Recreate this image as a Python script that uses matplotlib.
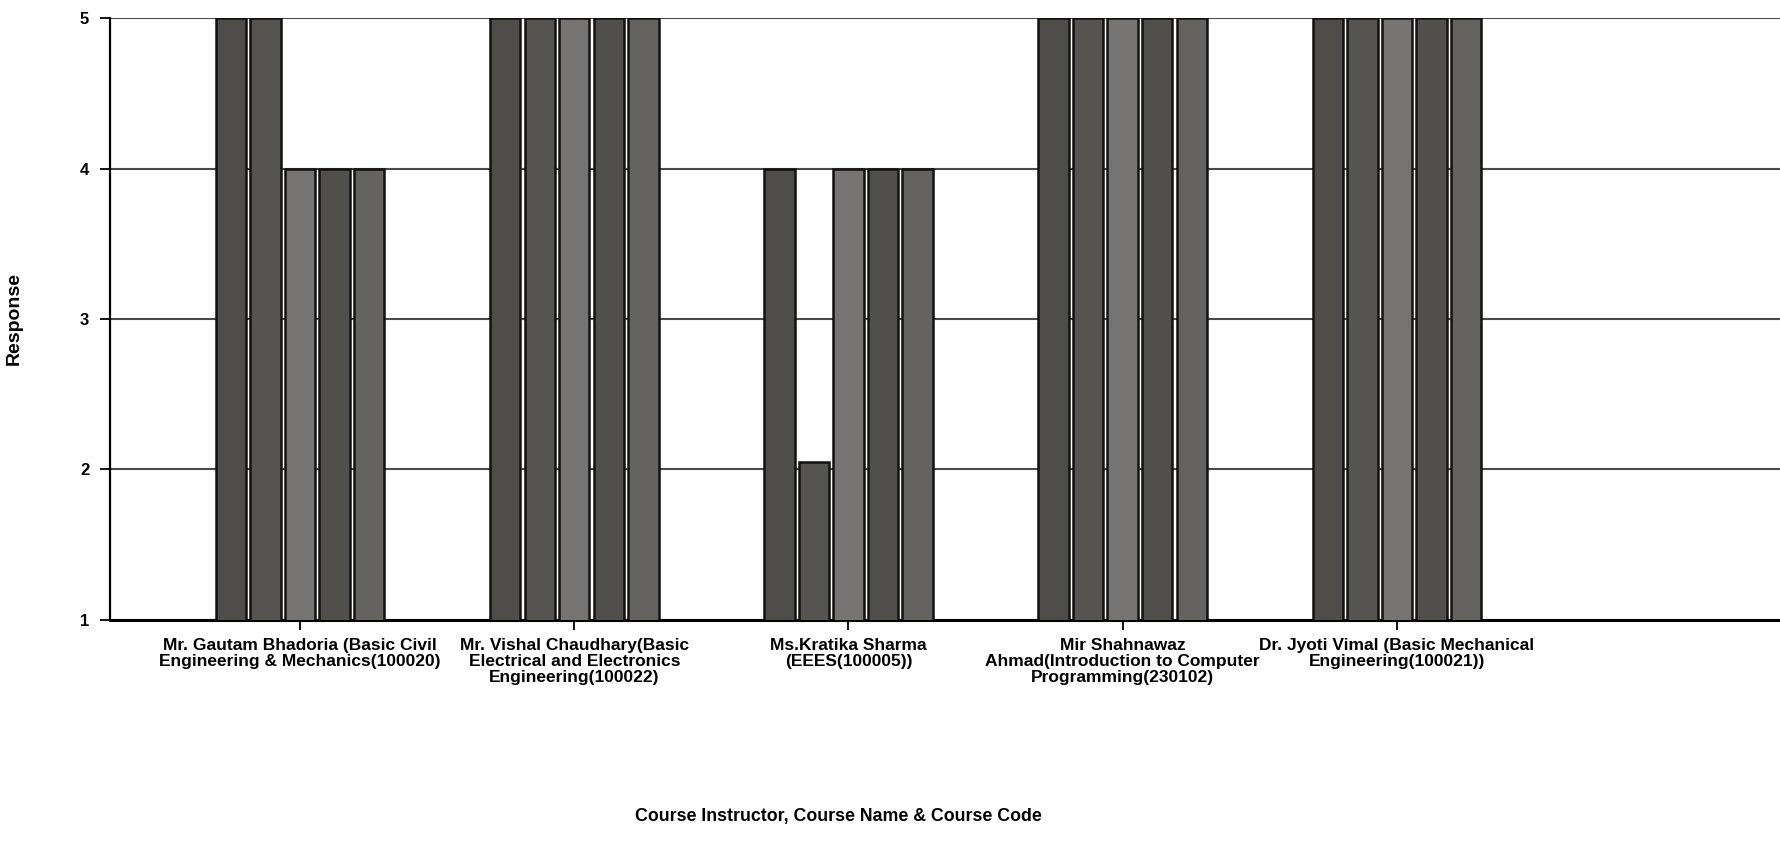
import matplotlib.pyplot as plt
import numpy as np

plt.rcParams['font.family'] = ['Liberation Sans', 'DejaVu Sans']

courses = ["Mr. Gautam Bhadoria (Basic Civil\nEngineering & Mechanics(100020)",
           "Mr. Vishal Chaudhary(Basic\nElectrical and Electronics\nEngineering(100022)",
           "Ms.Kratika Sharma\n(EEES(100005))",
           "Mir Shahnawaz\nAhmad(Introduction to Computer\nProgramming(230102)",
           "Dr. Jyoti Vimal (Basic Mechanical\nEngineering(100021))"]
q1 = [5, 5, 4, 5, 5]
q2 = [5, 5, 2.05, 5, 5]
q3 = [4, 5, 4, 5, 5]
q4 = [4, 5, 4, 5, 5]
q5 = [4, 5, 4, 5, 5]
series = [q1, q2, q3, q4, q5]
colors = ['#4f4d4a', '#565451', '#767472', '#514f4c', '#656360']

fig = plt.figure(figsize=(17.8, 8.42), dpi=100)
ax = fig.add_axes([0.0618, 0.2637, 0.9382, 0.7149])

x = np.arange(len(courses))
slot = 0.126
for i, vals in enumerate(series):
    ax.bar(x + (i - 2) * slot, vals, width=slot * 0.88, color=colors[i],
           edgecolor='#111111', linewidth=1.8, zorder=3)

ax.set_ylim(1, 5)
ax.set_xlim(-0.693, 5.397)
ax.set_yticks([1, 2, 3, 4, 5])
ax.yaxis.grid(True, color='#4a4a4a', linewidth=1.5, zorder=0)
ax.set_axisbelow(True)

for s in ['top', 'right']:
    ax.spines[s].set_visible(False)
ax.spines['left'].set_linewidth(1.6)
ax.spines['bottom'].set_linewidth(2.2)

ax.set_xticks(x)
ax.set_xticklabels(courses, fontsize=12.5, fontweight='bold', linespacing=1.1)
ax.tick_params(axis='x', direction='inout', length=14, width=1.3, pad=6)
ax.tick_params(axis='y', direction='out', length=7, width=1.3, labelsize=12, pad=8)
for t in ax.get_yticklabels():
    t.set_fontweight('bold')

ax.set_ylabel('Response', fontsize=14, fontweight='bold')
ax.yaxis.set_label_coords(-0.0525, 0.5)
ax.set_xlabel('Course Instructor, Course Name & Course Code', fontsize=12.8,
              fontweight='bold')
ax.xaxis.set_label_coords(0.436, -0.312)

fig.savefig('out.png', dpi=100)
